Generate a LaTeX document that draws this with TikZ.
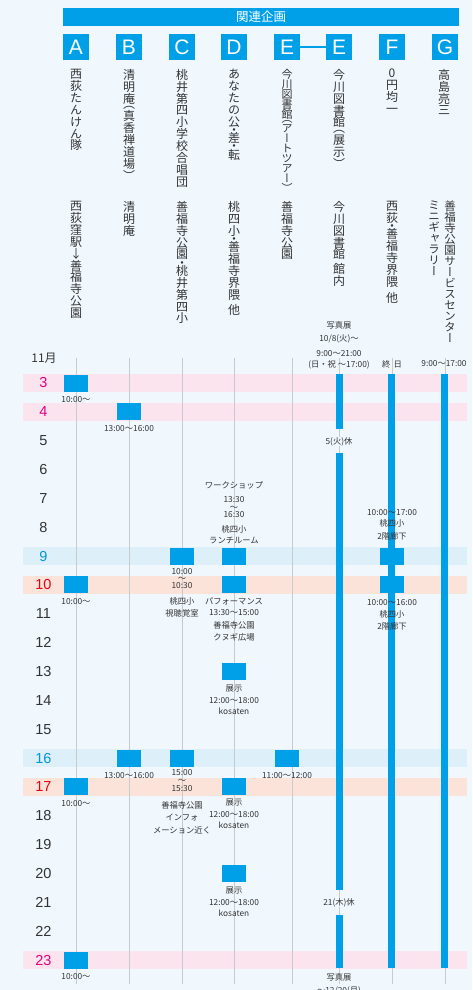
\documentclass[tikz,border=0pt]{standalone}
\usepackage{fontspec}
\setmainfont{Noto Sans CJK JP}
\newfontfamily\jpf{Noto Sans CJK JP}
\newfontfamily\vjpf[RawFeature=+vert]{Noto Sans CJK JP}
\newfontfamily\latf{Liberation Sans}
\definecolor{bgc}{HTML}{F0F8FE}
\definecolor{evblue}{HTML}{00A0E9}
\definecolor{bandpink}{HTML}{FBE4EE}
\definecolor{bandblue}{HTML}{DDEFF9}
\definecolor{bandpeach}{HTML}{FCE3D9}
\definecolor{dmag}{HTML}{E4007F}
\definecolor{dblue}{HTML}{0097DB}
\definecolor{dred}{HTML}{E60012}
\definecolor{txt}{HTML}{333333}
\definecolor{gridgray}{HTML}{C8CBCE}
\lineskiplimit=-50pt
\tikzset{
  evbox/.style={fill=evblue, minimum width=24pt, minimum height=17pt, inner sep=0pt},
  lbl/.style={font=\jpf\fontsize{8.3}{11.5}\selectfont, text=txt, align=center, inner sep=0pt, anchor=north},
  vtxt/.style={font=\vjpf\fontsize{12}{11.9}\selectfont, text=txt, align=center, inner sep=0pt, anchor=north},
  vtxtn/.style={vtxt, font=\vjpf\fontsize{11.5}{11}\selectfont},
  vtxtc/.style={vtxt, font=\vjpf\fontsize{11}{9.9}\selectfont},
  day/.style={font=\latf\fontsize{14.5}{14.5}\selectfont, inner sep=0pt, text=txt},
  letter/.style={fill=evblue, text=white, minimum size=26pt, inner sep=0pt, font=\latf\fontsize{21}{21}\selectfont},
  gridline/.style={draw=gridgray, line width=1pt},
  band/.style={minimum width=444pt, minimum height=18pt, inner sep=0pt},
}
\begin{document}
\begin{tikzpicture}[x=1pt,y=-1pt]
\path[use as bounding box] (0,0) rectangle (472,990);
\clip (0,0) rectangle (472,990);
\fill[bgc] (0,0) rectangle (472,990);

% header
\node[fill=evblue, minimum width=396pt, minimum height=18pt, inner sep=0pt, text=white,
      font=\jpf\fontsize{12.5}{12.5}\selectfont] (hdr) at (261,17) {関連企画};

% letters
\node[letter] (lA) at (76,47) {A};
\node[letter] (lB) at (129,47) {B};
\node[letter] (lC) at (182,47) {C};
\node[letter] (lD) at (234,47) {D};
\node[letter] (lE1) at (287,47) {E};
\node[letter] (lE2) at (339,47) {E};
\node[letter] (lF) at (392,47) {F};
\node[letter] (lG) at (445,47) {G};
\draw[evblue, line width=2pt] (lE1.east) -- (lE2.west);

% titles (vertical)
\node[vtxt] (tA) at (76,69) {西\\荻\\た\\ん\\け\\ん\\隊};
\node[vtxt] (tB) at (129,69) {清\\明\\庵\\[-6pt]（\\真\\香\\禅\\道\\場\\）};
\node[vtxt] (tC) at (182,69) {桃\\井\\第\\四\\小\\学\\校\\合\\唱\\団};
\node[vtxt] (tD) at (234,69) {あ\\な\\た\\の\\公\\[-3.7pt]・\\[-3.7pt]差\\[-3.7pt]・\\[-3.7pt]転};
\node[vtxtc] (tE1) at (287,69) {今\\川\\図\\書\\館\\[-5pt]（\\ア\\ー\\ト\\ツ\\ア\\ー\\）};
\node[vtxt] (tE2) at (339,69) {今\\川\\図\\書\\館\\[-6pt]（\\展\\示\\）};
\node[vtxt] (tF) at (392,69) {0\\円\\均\\一};
\node[vtxt] (tG) at (444,69) {高\\島\\亮\\三};

% places (vertical)
\node[vtxt] (pA) at (76,201) {西\\荻\\窪\\駅\\↓\\善\\福\\寺\\公\\園};
\node[vtxt] (pB) at (129,201) {清\\明\\庵};
\node[vtxt] (pC) at (182,201) {善\\福\\寺\\公\\園\\[-3.7pt]・\\[-3.7pt]桃\\井\\第\\四\\小};
\node[vtxt] (pD) at (234,201) {桃\\四\\小\\[-3.7pt]・\\[-3.7pt]善\\福\\寺\\界\\隈\\[4pt]他};
\node[vtxt] (pE1) at (287,201) {善\\福\\寺\\公\\園};
\node[vtxt] (pE2) at (339,201) {今\\川\\図\\書\\館\\[3pt]館\\内};
\node[vtxt] (pF) at (392,201) {西\\荻\\[-3.7pt]・\\[-3.7pt]善\\福\\寺\\界\\隈\\[4pt]他};
\node[vtxtn] (pG1) at (450,201) {善\\福\\寺\\公\\園\\サ\\ー\\ビ\\ス\\セ\\ン\\タ\\ー};
\node[vtxtn] (pG2) at (434,201) {ミ\\ニ\\ギ\\ャ\\ラ\\リ\\ー};

% bands
\node[band, fill=bandpink] (b3) at (245,383) {};
\node[band, fill=bandpink] (b4) at (245,411.85) {};
\node[band, fill=bandblue] (b9) at (245,556.1) {};
\node[band, fill=bandpeach] (b10) at (245,584.95) {};
\node[band, fill=bandblue] (b16) at (245,758.05) {};
\node[band, fill=bandpeach] (b17) at (245,786.9) {};
\node[band, fill=bandpink] (b23) at (245,960) {};

% grid lines
\foreach \x in {76,129,182,234,292,339,392,445}
  \draw[gridline] (\x,358) -- (\x,984);

% day labels
\node[font=\jpf\fontsize{12}{12}\selectfont, text=txt, inner sep=0pt] (m11) at (44,358) {11月};
\foreach \d in {5,6,7,8,11,12,13,14,15,18,19,20,21,22}
  \node[day] (d\d) at (43.5,{383+(\d-3)*28.85}) {\d};
\foreach \d in {3,4,23}
  \node[day, text=dmag] (d\d) at (43.5,{383+(\d-3)*28.85}) {\d};
\foreach \d in {9,16}
  \node[day, text=dblue] (d\d) at (43.5,{383+(\d-3)*28.85}) {\d};
\foreach \d in {10,17}
  \node[day, text=dred] (d\d) at (43.5,{383+(\d-3)*28.85}) {\d};

% long bars
\fill[evblue] (336,374) rectangle (343,429);
\fill[evblue] (336,453) rectangle (343,890);
\fill[evblue] (336,915) rectangle (343,968);
\fill[evblue] (388,374) rectangle (395,968);
\fill[evblue] (441,374) rectangle (448,968);

% event boxes
\node[evbox] (A3) at (76,383) {};
\node[evbox] (A10) at (76,584.95) {};
\node[evbox] (A17) at (76,786.9) {};
\node[evbox] (A23) at (76,960) {};
\node[evbox] (B4) at (129,411.85) {};
\node[evbox] (B16) at (129,758.05) {};
\node[evbox] (C9) at (182,556.1) {};
\node[evbox] (C16) at (182,758.05) {};
\node[evbox] (D9) at (234,556.1) {};
\node[evbox] (D10) at (234,584.95) {};
\node[evbox] (D13) at (234,671.5) {};
\node[evbox] (D17) at (234,786.9) {};
\node[evbox] (D20) at (234,873.45) {};
\node[evbox] (E16) at (287,758.05) {};
\node[evbox] (F9) at (392,556.1) {};
\node[evbox] (F10) at (392,584.95) {};

% labels
\node[lbl] (A3l) at (76,396.5) {10:00〜};
\node[lbl] (A10l) at (76,598.5) {10:00〜};
\node[lbl] (A17l) at (76,800.4) {10:00〜};
\node[lbl] (A23l) at (76,973) {10:00〜};
\node[lbl] (B4l) at (129,425.4) {13:00〜16:00};
\node[lbl] (B16l) at (129,772) {13:00〜16:00};
\node[lbl] (C9l) at (182,568) {10:00\\[-4pt]〜\\[-4.5pt]10:30\\[4.5pt]桃四小\\[0.5pt]視聴覚室};
\node[lbl] (C16l) at (182,769) {15:00\\[-3.5pt]〜\\[-3.5pt]15:30\\[5.5pt]善福寺公園\\[0.5pt]インフォ\\[1.5pt]メーション近く};
\node[lbl] (D9l) at (234,481) {ワークショップ\\[2.5pt]13:30\\[-3.5pt]〜\\[-4.5pt]16:30\\[3.5pt]桃四小\\[-0.5pt]ランチルーム};
\node[lbl] (D10l) at (234,598) {パフォーマンス\\[-0.5pt]13:30〜15:00\\[1.5pt]善福寺公園\\[0.5pt]クヌギ広場};
\node[lbl] (D13l) at (234,685) {展示\\[0.5pt]12:00〜18:00\\[-0.5pt]kosaten};
\node[lbl] (D17l) at (234,799) {展示\\[0.5pt]12:00〜18:00\\[-0.5pt]kosaten};
\node[lbl] (D20l) at (234,887) {展示\\[0.5pt]12:00〜18:00\\[-0.5pt]kosaten};
\node[lbl] (E16l) at (287,772) {11:00〜12:00};
\node[lbl] (F9l) at (392,509) {10:00〜17:00\\[-0.5pt]桃四小\\[1.5pt]2階廊下};
\node[lbl] (F10l) at (392,599) {10:00〜16:00\\[0.5pt]桃四小\\[0.5pt]2階廊下};
\node[lbl] (E2top) at (339,321) {写真展\\[1.5pt]10/8(火)〜\\[3.5pt]9:00〜21:00\\[-0.5pt](日・祝 〜17:00)};
\node[lbl, fill=bgc] (E2off1) at (339,437) {5(火)休};
\node[lbl, fill=bgc] (E2off2) at (339,898) {21(木)休};
\node[lbl] (Fall) at (392,360) {終\hspace{3pt}日};
\node[lbl] (Gtime) at (444,360) {9:00〜17:00};
\node[lbl] (E2bot) at (339,973) {写真展\\[1.5pt]〜12/20(月)};
\end{tikzpicture}
\end{document}
